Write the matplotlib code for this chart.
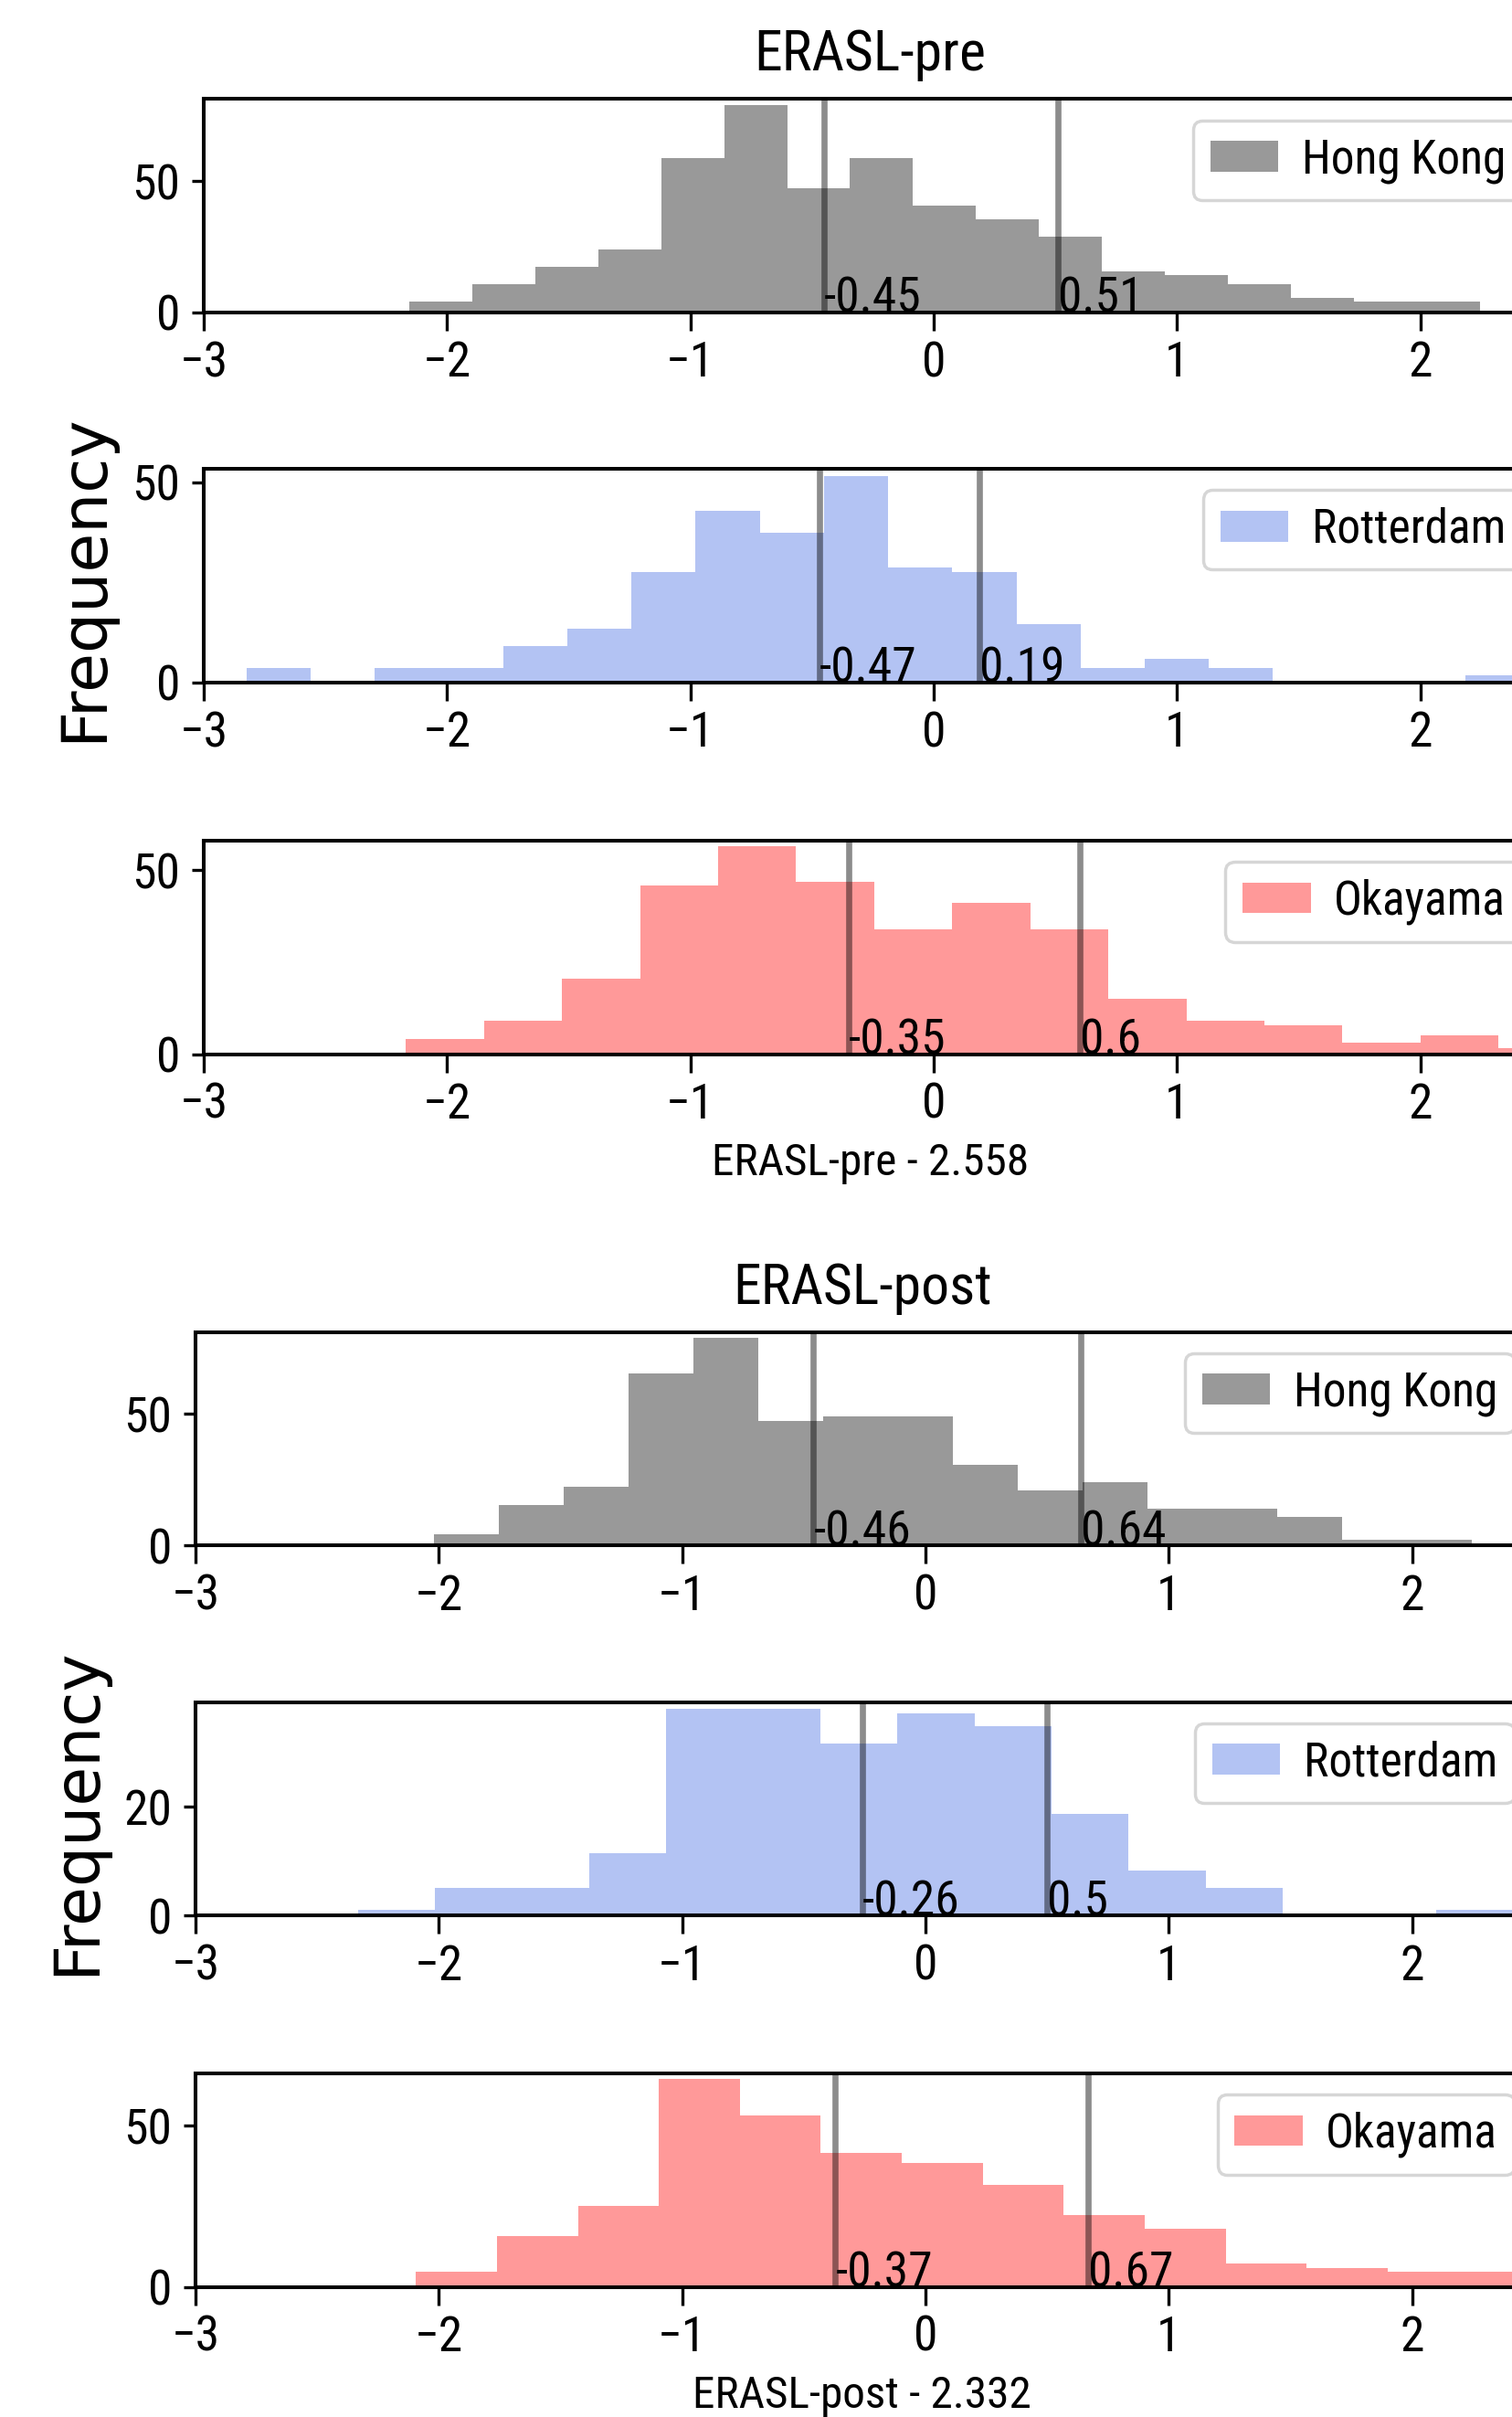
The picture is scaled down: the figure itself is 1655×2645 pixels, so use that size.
import numpy as np
import matplotlib
matplotlib.use('Agg')
import matplotlib.pyplot as plt
from matplotlib import font_manager

# The reference text is squeezed sideways, so use a condensed face
installed = {f.name for f in font_manager.fontManager.ttflist}
for fam in ['Roboto Condensed', 'Fira Sans Extra Condensed']:
    if fam in installed:
        plt.rcParams['font.family'] = [fam, 'DejaVu Sans']
        break
else:
    plt.rcParams['font.family'] = ['DejaVu Sans']
    plt.rcParams['font.stretch'] = 'condensed'
plt.rcParams['axes.linewidth'] = 2.9

# ---- data ----
cities = ['Hong Kong', 'Rotterdam', 'Okayama']
colors = ['k', 'royalblue', 'red']

x_ticks = [-3, -2, -1, 0, 1, 2]
x_lim = (-3, 2.48)

# ERASL-pre: bin counts, bin range (equal width bins)
pre_hk = [4.2, 10.8, 17.4, 24.0, 58.6, 79.0, 47.1, 58.6, 40.6, 35.6, 29.0,
          15.5, 14.3, 10.8, 5.7, 4.2, 4.2]
pre_rot = [3.7, 0, 3.7, 3.7, 9.1, 13.4, 27.6, 42.9, 37.3, 51.5, 28.7, 27.6,
           14.6, 3.7, 6.0, 3.7, 0, 0, 0, 1.7]
pre_oka = [4.2, 9.0, 20.6, 45.8, 56.6, 46.8, 33.8, 41.0, 33.8, 15.0, 9.0,
           7.8, 3.1, 5.2, 1.7]
pre_ranges = [(-2.155, 2.245), (-2.824, 2.450), (-2.169, 2.643)]
pre_marks = [(-0.45, 0.51), (-0.47, 0.19), (-0.35, 0.6)]
pre_ytop = [81.2, 53.3, 58.0]
pre_yticks = [[0, 50], [0, 50], [0, 50]]

# ERASL-post
post_hk = [4.1, 15.4, 22.2, 65.3, 78.9, 47.2, 49.0, 49.0, 30.5, 20.8, 23.9,
           14.0, 14.0, 10.8, 2.2, 2.2]
post_rot = [1.1, 5.1, 5.1, 11.5, 38.0, 38.0, 31.6, 37.2, 34.8, 18.8, 8.3,
            5.1, 0, 0, 1.1]
post_oka = [4.7, 15.6, 25.0, 64.5, 53.2, 41.4, 38.5, 31.7, 22.3, 18.1, 7.3,
            5.9, 4.7, 4.7]
post_ranges = [(-2.021, 2.244), (-2.331, 2.417), (-2.094, 2.565)]
post_marks = [(-0.46, 0.64), (-0.26, 0.5), (-0.37, 0.67)]
post_ytop = [81.2, 39.3, 66.2]
post_yticks = [[0, 50], [0, 20], [0, 50]]

blocks = [
    dict(title='ERASL-pre', xlabel='ERASL-pre - 2.558',
         counts=[pre_hk, pre_rot, pre_oka], ranges=pre_ranges,
         marks=pre_marks, ytop=pre_ytop, yticks=pre_yticks,
         left=222.9, tops=[108.4, 513.3, 920.0]),
    dict(title='ERASL-post', xlabel='ERASL-post - 2.332',
         counts=[post_hk, post_rot, post_oka], ranges=post_ranges,
         marks=post_marks, ytop=post_ytop, yticks=post_yticks,
         left=214.0, tops=[1457.7, 1862.7, 2269.0]),
]

# ---- figure (pixel layout; axes run past the right edge like the crop) ----
W, H = 1656, 2645
AX_W, AX_H = 1459.5, 233.5
fig = plt.figure(figsize=(W / 100, H / 100), dpi=100)

for blk in blocks:
    for i in range(3):
        top = blk['tops'][i]
        ax = fig.add_axes([blk['left'] / W, 1 - (top + AX_H) / H, AX_W / W, AX_H / H])

        lo, hi = blk['ranges'][i]
        counts = blk['counts'][i]
        edges = np.linspace(lo, hi, len(counts) + 1)
        ax.hist(edges[:-1], bins=edges, weights=counts, histtype='stepfilled',
                color=colors[i], alpha=0.4, label=cities[i])

        for m in blk['marks'][i]:
            ax.axvline(m, color='k', alpha=0.45, lw=4.8)
            ax.text(m, 0, str(m), fontsize=38.5)

        ax.set_xlim(x_lim)
        ax.set_ylim(0, blk['ytop'][i])
        ax.set_xticks(x_ticks)
        ax.set_yticks(blk['yticks'][i])
        ax.tick_params(axis='x', length=14.4, width=2.4, pad=7.5, labelsize=38.5)
        ax.tick_params(axis='y', length=9.6, width=2.4, pad=9, labelsize=38.5)

        leg = ax.legend(loc='upper right', bbox_to_anchor=(1.005, 1), fontsize=37,
                        borderpad=0.36, handlelength=1.45, handleheight=0.63,
                        handletextpad=0.5, borderaxespad=0.45)
        leg.get_frame().set_linewidth(2.5)

        if i == 0:
            ax.set_title(blk['title'], fontsize=44.5, pad=22.3)
        if i == 1:
            ax.set_ylabel('Frequency', fontsize=50,
                          fontfamily='DejaVu Sans', fontstretch='normal')
            ax.yaxis.set_label_coords(-0.0667, 0.49)
        if i == 2:
            ax.set_xlabel(blk['xlabel'], fontsize=35.5, labelpad=11)

fig.savefig('out.png', dpi=100, facecolor='white')
